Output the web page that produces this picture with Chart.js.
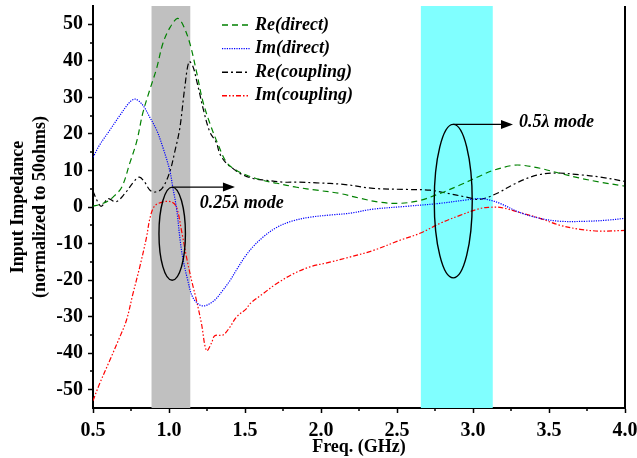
<!DOCTYPE html>
<html>
<head>
<meta charset="utf-8">
<script src="https://cdn.jsdelivr.net/npm/chart.js@4"></script>
<style>
  html,body{margin:0;padding:0;background:#fff;}
  #wrap{width:637px;height:458px;}
</style>
</head>
<body>
<div id="wrap"><canvas id="c" width="637" height="458"></canvas></div>
<script>
/* ---- data: [freq GHz, impedance] ---- */
var RE_DIRECT=[[0.5,0.2],[0.544,0.7],[0.588,1.4],[0.632,2.7],[0.69,5.5],[0.742,12],[0.788,18],[0.827,25.6],[0.873,32],[0.919,38],[0.96,44.8],[1.005,49],[1.056,51.6],[1.09,50],[1.137,44.8],[1.183,36.6],[1.222,29],[1.268,23],[1.32,17.4],[1.379,12.2],[1.445,10],[1.512,8.7],[1.617,7.3],[1.71,6.5],[1.84,5.4],[1.973,4.6],[2.125,3.7],[2.255,2.4],[2.387,1.3],[2.519,1.0],[2.651,1.8],[2.782,3.7],[2.914,6],[3.046,8.5],[3.131,10],[3.263,11.4],[3.329,11.4],[3.441,10.6],[3.572,9.2],[3.704,7.9],[3.836,6.8],[4.0,5.7]];
var IM_DIRECT=[[0.5,13.6],[0.544,17],[0.61,21],[0.676,25],[0.742,28.7],[0.779,29.5],[0.827,27.9],[0.873,24.6],[0.919,21],[0.959,16.4],[1.005,10],[1.025,5.4],[1.05,-0.5],[1.071,-8.3],[1.09,-13.8],[1.123,-20],[1.156,-24.7],[1.202,-26.8],[1.24,-27],[1.3,-25.5],[1.35,-23],[1.4,-20.2],[1.45,-16.8],[1.5,-13.6],[1.55,-11],[1.617,-8.3],[1.708,-5.6],[1.814,-3.8],[1.926,-2.8],[2.058,-2.2],[2.19,-1.7],[2.341,-0.6],[2.565,0.2],[2.782,1.0],[2.95,1.9],[3.046,2.3],[3.11,1.9],[3.177,1.0],[3.308,-1.5],[3.44,-3.1],[3.572,-3.9],[3.75,-3.9],[3.882,-3.6],[4.0,-3.1]];
var RE_COUPLING=[[0.5,4.3],[0.53,1.5],[0.555,0.2],[0.6,2.3],[0.65,1.4],[0.71,3.7],[0.77,7],[0.805,8.2],[0.84,6.8],[0.875,4.6],[0.91,4.1],[0.955,5.1],[1.005,9.6],[1.04,15.5],[1.071,21.5],[1.104,32.8],[1.132,39.8],[1.158,38.4],[1.181,34.7],[1.202,31],[1.224,27],[1.268,20.6],[1.312,17.6],[1.334,14.6],[1.378,11.9],[1.422,10.5],[1.466,9.2],[1.553,7.8],[1.642,7.3],[1.751,6.8],[1.85,6.8],[1.97,6.6],[2.146,6.2],[2.343,5.1],[2.563,4.8],[2.717,4.6],[2.826,3.8],[2.958,2.7],[3.046,2.1],[3.156,3.7],[3.287,6.6],[3.419,8.7],[3.551,9.3],[3.704,8.8],[3.836,8.2],[4.0,7.0]];
var IM_COUPLING=[[0.5,-53],[0.544,-48.3],[0.61,-42],[0.676,-35.6],[0.72,-31],[0.763,-23.7],[0.807,-16.5],[0.852,-8.3],[0.875,-3],[0.906,0.3],[0.961,1.4],[1.016,1.4],[1.049,0],[1.082,-6.4],[1.115,-13.7],[1.148,-20],[1.181,-25.6],[1.214,-32],[1.247,-39.3],[1.28,-37.2],[1.301,-35.2],[1.356,-35],[1.4,-32.9],[1.444,-30.1],[1.51,-27.8],[1.532,-26.5],[1.619,-23.7],[1.707,-21],[1.817,-18.3],[1.927,-16.4],[2.058,-15.1],[2.19,-13.7],[2.343,-11.9],[2.519,-9.1],[2.651,-7.2],[2.782,-4.5],[2.914,-2.3],[3.046,-0.4],[3.11,-0.1],[3.177,-0.1],[3.308,-1.5],[3.44,-3.1],[3.572,-5],[3.704,-6.1],[3.836,-6.6],[4.0,-6.4]];

var SERIES_NAMES=['Re(direct)','Im(direct)','Re(coupling)','Im(coupling)'];
var SERIES_COLORS=['#008000','#0000ff','#000000','#ff0000'];
var SERIES_DASH=[[6,4],[1.2,1.2],[6,3,2,3],[5,2,1.5,2,1.5,2]];

var X_TICKS=[0.5,1.0,1.5,2.0,2.5,3.0,3.5,4.0];
var X_MINOR=[0.75,1.25,1.75,2.25,2.75,3.25,3.75];
var Y_TICKS=[-50,-40,-30,-20,-10,0,10,20,30,40,50];
var Y_MINOR=[-45,-35,-25,-15,-5,5,15,25,35,45];

/* shaded frequency bands [from, to, colour] */
var BANDS=[[0.885,1.14,'#c0c0c0'],[2.657,3.13,'#80ffff']];
/* mode markers: ellipse centre f, centre v, half-width f, half-height v, arrow end f, label f, label v, label */
var MODES=[[1.021,-7.3,0.087,12.75,1.434,1.203,1.0,'0.25\u03bb mode'],[2.870,1.6,0.125,21,3.263,3.303,23.3,'0.5\u03bb mode']];

var FONT='"Liberation Serif","Times New Roman",serif';

function toXY(a){return a.map(function(p){return{x:p[0],y:p[1]};});}
var SERIES=[RE_DIRECT,IM_DIRECT,RE_COUPLING,IM_COUPLING];

var ds=SERIES.map(function(s,i){
  return{
    label:SERIES_NAMES[i],data:toXY(s),
    borderColor:SERIES_COLORS[i],backgroundColor:SERIES_COLORS[i],
    borderDash:SERIES_DASH[i],borderWidth:1.2,
    showLine:true,pointRadius:0,tension:0.35,fill:false
  };
});

var bandsPlugin={
  id:'bands',
  beforeDatasetsDraw:function(ch){
    var c=ch.ctx,xs=ch.scales.x,a=ch.chartArea;
    c.save();
    BANDS.forEach(function(b){
      var x0=xs.getPixelForValue(b[0]),x1=xs.getPixelForValue(b[1]);
      c.fillStyle=b[2];c.fillRect(x0,a.top,x1-x0,a.bottom-a.top);
    });
    c.restore();
  }
};

var decoPlugin={
  id:'deco',
  afterDatasetsDraw:function(ch){
    var c=ch.ctx,xs=ch.scales.x,ys=ch.scales.y,a=ch.chartArea;
    c.save();
    /* minor ticks */
    c.strokeStyle='#000';c.lineWidth=1.5;c.beginPath();
    X_MINOR.forEach(function(v){var px=Math.round(xs.getPixelForValue(v));c.moveTo(px,a.bottom);c.lineTo(px,a.bottom+3);});
    Y_MINOR.forEach(function(v){var py=Math.round(ys.getPixelForValue(v));c.moveTo(a.left,py);c.lineTo(a.left-3,py);});
    c.stroke();
    /* right frame line */
    c.lineWidth=2;c.beginPath();c.moveTo(a.right,a.top);c.lineTo(a.right,a.bottom);c.stroke();
    /* mode ellipses with arrows */
    MODES.forEach(function(m){
      var cx=xs.getPixelForValue(m[0]),cy=ys.getPixelForValue(m[1]);
      var rx=xs.getPixelForValue(m[0]+m[2])-cx,ry=cy-ys.getPixelForValue(m[1]+m[3]);
      c.lineWidth=1.4;c.strokeStyle='#000';
      c.beginPath();c.ellipse(cx,cy,rx,ry,0,0,Math.PI*2);c.stroke();
      var ty=cy-ry,ex=xs.getPixelForValue(m[4]);
      c.beginPath();c.moveTo(cx,ty);c.lineTo(ex-10,ty);c.stroke();
      c.fillStyle='#000';c.beginPath();c.moveTo(ex,ty);c.lineTo(ex-12,ty-4.5);c.lineTo(ex-12,ty+4.5);c.closePath();c.fill();
      c.font='bold italic 18px '+FONT;c.textBaseline='middle';c.textAlign='left';
      c.fillText(m[7],xs.getPixelForValue(m[5]),ys.getPixelForValue(m[6]));
    });
    /* legend */
    var lx=a.left+129,ly=a.top+19;
    ch.data.datasets.forEach(function(d,i){
      var y=ly+i*23.6;
      c.strokeStyle=d.borderColor;c.lineWidth=1.4;c.setLineDash(d.borderDash);
      c.beginPath();c.moveTo(lx,y);c.lineTo(lx+28,y);c.stroke();c.setLineDash([]);
      c.fillStyle='#000';c.font='bold italic 18px '+FONT;c.textBaseline='middle';c.textAlign='left';
      c.fillText(d.label,lx+33,y);
    });
    c.restore();
  }
};

new Chart(document.getElementById('c'),{
  type:'scatter',
  data:{datasets:ds},
  options:{
    responsive:false,animation:false,devicePixelRatio:1,
    layout:{padding:{left:0,right:12,top:6,bottom:0}},
    plugins:{legend:{display:false},tooltip:{enabled:false}},
    scales:{
      x:{
        type:'linear',min:0.5,max:4.0,
        afterBuildTicks:function(s){s.ticks=X_TICKS.map(function(v){return{value:v};});},
        afterFit:function(s){s.height=50;s.paddingLeft=0;s.paddingRight=0;},
        ticks:{color:'#000',font:{family:FONT,size:20,weight:'bold'},padding:6,maxRotation:0,
          callback:function(v){return v.toFixed(1);}},
        grid:{drawOnChartArea:false,drawTicks:true,tickLength:5,tickColor:'#000',tickWidth:1.5},
        border:{display:true,color:'#000',width:2},
        title:{display:true,text:'Freq. (GHz)',color:'#000',font:{family:FONT,size:18,weight:'bold'},padding:{top:0,bottom:0}}
      },
      y:{
        min:-55,max:55,
        afterBuildTicks:function(s){s.ticks=Y_TICKS.map(function(v){return{value:v};});},
        afterFit:function(s){s.width=93;s.paddingTop=0;s.paddingBottom=0;},
        ticks:{color:'#000',font:{family:FONT,size:20,weight:'bold'},padding:5},
        grid:{drawOnChartArea:false,drawTicks:true,tickLength:5,tickColor:'#000',tickWidth:1.5},
        border:{display:true,color:'#000',width:2},
        title:{display:true,text:['Input Impedance','(normalized to 50ohms)'],color:'#000',
          font:{family:FONT,size:18,weight:'bold',lineHeight:1.25},padding:{top:7,bottom:0}}
      }
    }
  },
  plugins:[bandsPlugin,decoPlugin]
});
</script>
</body>
</html>
